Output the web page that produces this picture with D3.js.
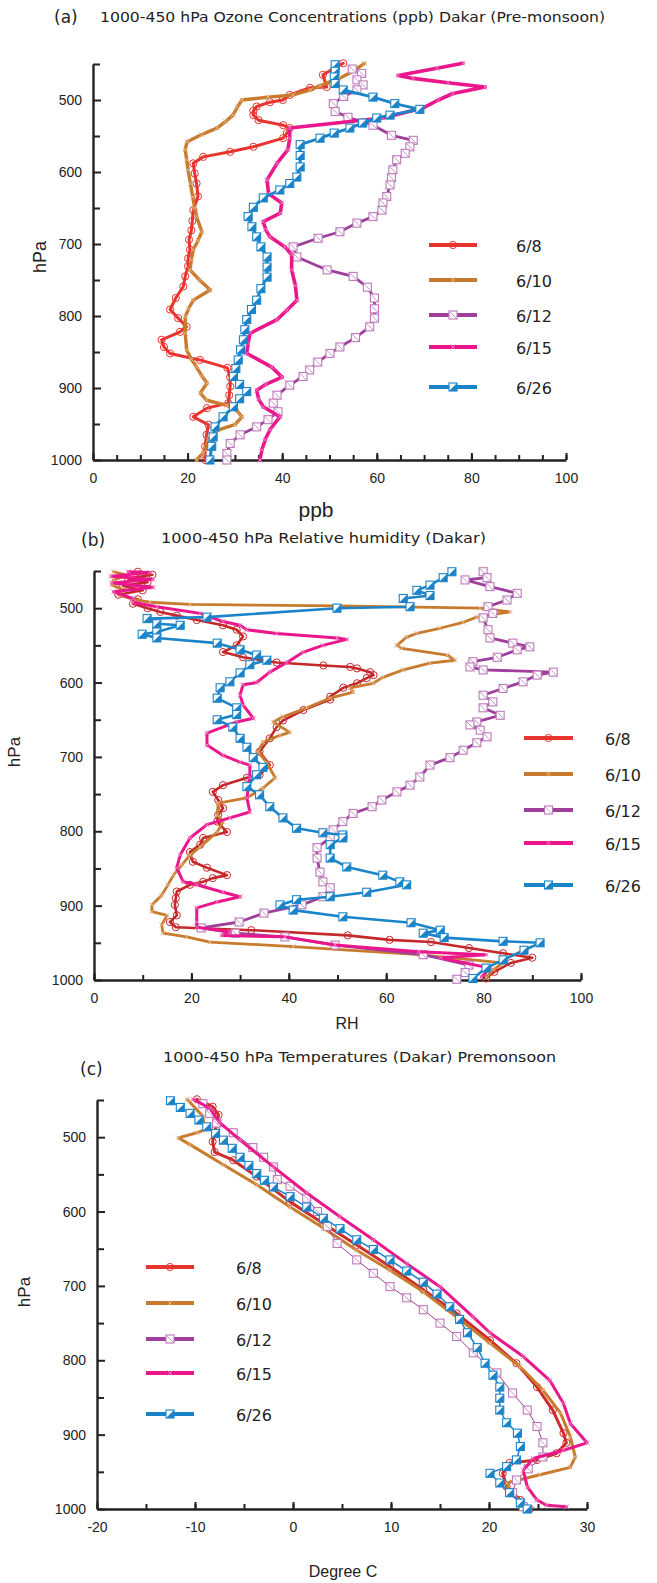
<!DOCTYPE html>
<html>
<head>
<meta charset="utf-8">
<script src="https://cdn.jsdelivr.net/npm/d3@7"></script>
<style>
  body { margin: 0; background: #fff; }
  svg { display: block; }
</style>
</head>
<body>
<div id="chart"></div>
<script>
// ---- data: [pressure hPa, value] ----
const dates = ["6/8", "6/10", "6/12", "6/15", "6/26"];
const markerTypes = ["circle", "cross", "sqdiag", "cross", "sqhalf"];

// (a) ozone, ppb
const oz0608 = [[449,52.9],[465,48.6],[482,49.4],[483,45.9],[493,41.6],[500,40.1],[503,37.4],[509,34.6],[515,33.9],[521,33.9],[528,35],[535,40.2],[539,41.6],[546,41],[553,40.2],[565,33.9],[572,29],[579,23.3],[588,21.2],[602,21.5],[616,21.9],[634,22.2],[653,21.2],[668,21],[681,20.8],[694,20.3],[708,20.5],[720,20.1],[731,20.1],[745,19.5],[759,19.1],[775,17.5],[791,16.3],[803,18],[815,19.8],[822,18.4],[833,14.5],[843,15],[852,16.3],[861,22.6],[872,28.4],[885,29],[898,29],[910,28.8],[921,28.6],[928,24.1],[940,21.2],[951,24.4],[965,24],[981,23.7],[1000,23.7]];
const oz0610 = [[449,57.4],[460,55],[470,52],[480,48],[486,46],[493,42.3],[496,37],[500,31.5],[510,30.5],[521,29.6],[530,28],[539,26.2],[548,23],[558,19.9],[569,19.5],[583,19.8],[597,20.1],[616,20.6],[635,21.1],[650,21.5],[662,21.9],[683,23],[695,22.2],[708,21.2],[722,20.8],[736,20.5],[750,22.5],[764,24.8],[778,21.2],[790,20.2],[801,19.5],[824,19.5],[847,19.8],[860,20.8],[871,21.9],[883,23],[893,24.1],[907,22.7],[917,24],[924,28.3],[932,30.5],[940,31.5],[951,30],[958,26.5],[972,24.4],[990,23.3],[1000,21.9]];
const oz0612 = [[457,54.8],[463,56.8],[472,55.8],[479,57.1],[486,55.8],[495,53],[505,50.8],[516,51.2],[524,53.9],[535,59.2],[549,63.1],[556,67.7],[565,67],[574,66],[583,64.2],[597,63.4],[608,63.1],[618,62.8],[634,62.1],[643,61.3],[653,61.1],[662,59.2],[671,55.8],[683,52.2],[692,47.6],[704,42.3],[718,43.1],[736,49.5],[745,55],[760,58],[775,59.5],[790,59.5],[803,59.5],[815,58.5],[830,55.5],[843,52.2],[852,50.1],[864,47.5],[875,45.8],[884,44.4],[896,41.6],[910,38.9],[921,38.1],[933,39.1],[944,37],[954,34.6],[965,31.1],[977,29],[991,28.3],[1000,28.3]];
const oz0615 = [[449,78.2],[456,72.7],[466,64.5],[470,67.7],[476,75],[482,82.9],[491,76.1],[500,73],[511,69.8],[525,61.3],[539,41.6],[553,41.6],[569,41.2],[588,38.9],[611,36.8],[630,37.1],[643,39.9],[657,39.6],[669,36],[680,36.5],[690,37.4],[704,40.6],[715,42],[736,42],[758,42.8],[778,43.1],[792,41],[805,38.9],[824,33.2],[838,32.8],[852,32.5],[871,37.8],[885,40],[895,36.5],[903,34.6],[915,35],[926,36],[940,39.5],[958,37.4],[972,36.4],[986,35.7],[1000,35.3]];
const oz0626 = [[451,51.2],[460,51.2],[468,51],[477,51.2],[486,52.9],[496,59.2],[505,63.8],[513,69.1],[521,62.8],[525,60],[532,57],[539,54.3],[546,51],[553,48],[562,43.8],[577,43.8],[593,43.8],[607,43.1],[616,41.6],[625,39.5],[636,36],[649,33.9],[662,32.8],[676,33.6],[690,34.6],[704,35.5],[718,36.8],[732,36.8],[746,36.8],[762,35.5],[778,34.6],[791,33.5],[805,32.5],[819,32.1],[833,31.8],[847,31.2],[861,30.7],[873,30.2],[884,29.7],[895,31],[905,32.5],[915,31],[926,29.7],[940,27.5],[954,25.8],[968,25.4],[981,25.1],[1000,24.7]];

// (b) relative humidity, %
const rh0608 = [[451,9],[455,12],[460,7],[465,11],[470,6],[476,10],[482,5],[488,9],[494,8],[500,11],[505,13.6],[510,17],[516,21.1],[523,26.5],[529,29.3],[538,30.6],[550,29.3],[559,26.5],[566,30.6],[573,37.5],[577,47.1],[579,52.6],[581,54],[586,56.7],[590,57.4],[594,56],[601,54],[607,51.2],[619,48.5],[623,48.5],[637,43],[651,38.8],[660,37.5],[675,36.1],[693,34],[711,36.1],[724,34],[728,31.4],[738,26.5],[747,24.4],[758,25.5],[769,26.5],[778,25.5],[787,25.3],[801,27.3],[809,22.4],[818,21.8],[828,19.7],[841,20.3],[849,23.2],[859,27.3],[863,24.4],[868,22.4],[872,19.7],[881,17],[890,16.8],[899,16.6],[913,17],[922,15.6],[929,16.8],[933,32.3],[940,52.1],[946,60.7],[949,69.2],[957,77],[964,84],[970,90],[977,85.6],[989,82.2],[998,80.5]];
const rh0610 = [[451,4],[456,7],[462,4],[469,3.7],[475,6],[482,5],[488,8],[492,11.5],[495,19.7],[497,50],[500,79.3],[505,85.4],[512,78.6],[519,75.8],[527,71],[534,66.3],[539,64.2],[550,62.2],[554,63.2],[563,72.5],[570,74.1],[574,69],[583,63.5],[593,59.3],[601,57.3],[607,52.6],[613,53.2],[621,48.5],[634,43.7],[646,38.8],[653,36.8],[667,40.2],[671,38.2],[680,34.7],[693,33.7],[708,35.5],[728,37.2],[742,34.7],[755,31.4],[762,25.5],[778,25.3],[787,26.5],[801,25.3],[821,21.8],[832,19.7],[845,18.1],[859,16.3],[872,15.2],[886,13.9],[899,11.9],[908,11.9],[913,15],[926,13.9],[937,14.2],[942,19],[949,23.8],[955,40.9],[966,66.7],[977,84],[986,82],[997,80.5]];
const rh0612 = [[451,79.9],[459,80.7],[462,76.2],[471,81.3],[480,86.9],[489,84.8],[498,80.9],[507,81.9],[513,79.9],[529,80.9],[540,81.3],[547,86],[552,89.5],[556,86.9],[566,82.8],[572,77.8],[579,77.2],[583,79.9],[586,94.3],[590,91],[599,88.1],[608,84],[617,79.9],[626,81.9],[634,79.9],[644,83.4],[653,78.6],[657,77.2],[664,79.3],[673,80.7],[681,78.6],[691,75.8],[701,73.1],[711,69],[727,66.9],[738,64.9],[747,62.2],[758,59.1],[767,57.1],[776,53.2],[787,51.1],[798,49.1],[809,48.5],[822,45.8],[836,45.8],[855,46.4],[868,47],[876,48.5],[888,47],[899,42.7],[910,34.9],[922,29.8],[930,22],[937,29],[942,39.2],[953,49.5],[966,67.6],[980,77],[990,76.2],[999,74.5]];
const rh0615 = [[451,7],[452,11.5],[457,3.5],[461,12.1],[466,3.7],[472,12.1],[478,4],[487,8],[492,8],[498,12.9],[507,21.8],[518,26.5],[523,30],[529,31.4],[534,37.5],[540,49.9],[542,51.9],[550,47],[559,43],[573,39.6],[586,36.1],[600,33.4],[603,30.6],[617,30],[630,30.6],[648,32.7],[653,29.3],[668,23.2],[684,23.2],[698,26.5],[707,30],[711,32],[728,32],[755,31.4],[774,32],[782,27.9],[791,23.2],[809,19.7],[832,17.7],[849,17],[868,18.3],[872,21.1],[882,26.5],[888,30],[895,25.3],[903,21.1],[922,21.1],[929,21.1],[935,27.9],[940,26.3],[942,39.2],[953,49.5],[962,66.7],[966,80.5],[970,71.2],[984,81.3],[996,79.6]];
const rh0626 = [[451,73.5],[459,71.7],[469,69],[476,66.3],[483,69],[487,63.5],[498,64.9],[500,49.9],[512,23.2],[514,10.9],[521,12.9],[523,17.7],[532,12.9],[535,9.9],[540,12.9],[547,25.3],[556,30],[563,33.4],[570,35.5],[576,32],[587,30],[599,27.9],[607,25.9],[621,25.3],[634,29.3],[643,29.3],[650,25.3],[660,28.5],[675,30],[687,31.4],[701,32.7],[714,34.7],[724,33.4],[740,31.4],[751,34],[767,36.1],[782,38.8],[796,41.6],[802,47],[805,51.1],[809,51.1],[818,48.5],[836,48.5],[848,51.9],[859,59.3],[868,62.8],[872,64.2],[882,56],[888,48.5],[892,41.6],[899,38.2],[906,40.9],[915,51.1],[923,65.1],[933,71.1],[937,67.6],[943,71.9],[948,84],[950,91.6],[960,88.3],[973,84],[984,80.5],[998,77.8]];

// (c) temperature, deg C
const tc0608 = [[449,-9.8],[459,-8.2],[470,-7.6],[488,-7.9],[506,-8.2],[520,-8],[531,-6.1],[553,-3.7],[587,-0.3],[616,3.1],[645,6.5],[674,9.9],[705,13.3],[737,16.7],[773,20.1],[804,22.8],[836,24.9],[867,26.5],[898,27.6],[911,27.9],[925,26.9],[934,24.9],[938,22.1],[952,21.4],[970,21.8],[988,23.2],[1000,24.2]];
const tc0610 = [[449,-10.8],[472,-9.2],[490,-9],[494,-9.8],[501,-11.7],[510,-10.5],[537,-7.1],[564,-3.7],[594,-0.3],[622,3.1],[652,6.5],[679,9.9],[708,13.3],[742,16.7],[777,20.1],[809,23.2],[840,25.5],[871,27.3],[903,28.3],[930,28.8],[944,28.3],[954,25.2],[965,21.8],[978,22.1],[992,23.5],[1000,24.2]];
const tc0612 = [[455,-9.2],[468,-8.5],[481,-7.8],[494,-6.1],[514,-4.1],[527,-3],[540,-2],[557,-1.6],[566,-0.3],[582,1.4],[600,2.5],[620,3.5],[643,4.5],[665,6.5],[683,8.2],[701,9.9],[716,11.6],[732,13.3],[750,15],[768,16.7],[790,18.4],[817,20.8],[844,22.4],[867,23.9],[889,24.9],[911,25.5],[930,25.5],[946,24],[961,22.8],[978,22.4],[997,23.5]];
const tc0615 = [[449,-10.2],[461,-8.5],[480,-7.5],[504,-5.4],[540,-2],[575,1.4],[607,4.8],[638,8.2],[670,11.6],[701,15],[742,18.4],[763,20.1],[795,23.5],[827,26.2],[858,27.6],[885,28.3],[911,30],[921,27.6],[932,24.5],[948,23.5],[970,23.9],[988,24.9],[995,25.9],[997,27.9]];
const tc0626 = [[451,-12.5],[460,-11.5],[468,-10.5],[477,-9.6],[486,-8.8],[495,-7.9],[504,-7.1],[515,-6.2],[527,-5.4],[538,-4.5],[549,-3.7],[558,-2.9],[567,-2],[580,-0.3],[594,1.4],[609,3.1],[623,4.8],[638,6.5],[651,8.2],[665,9.9],[680,11.6],[695,13.3],[711,14.7],[728,16],[745,17],[763,17.8],[783,18.8],[804,19.6],[820,20.4],[836,21.1],[851,21.1],[867,21.1],[884,21.8],[898,22.9],[916,23.2],[934,22.8],[943,21.8],[952,20.1],[965,21.1],[978,22.1],[992,23.2],[1000,23.9]];

const W = 657, H = 1583;
const svg = d3.select("#chart").append("svg")
  .attr("width", W).attr("height", H)
  .style("font-family", "'Liberation Sans', Arial, sans-serif");
svg.append("rect").attr("width", W).attr("height", H).attr("fill", "#fff");

const titleFont = "'DejaVu Sans', 'Noto Sans', sans-serif";
const plain = d => String(d);   // keeps "1000" and "-20" as printed

function drawMarker(g, type, color, x, y) {
  const m = g.append("g").attr("transform", `translate(${x},${y})`);
  if (type === "circle") {
    m.append("circle").attr("r", 3.6).attr("fill", "none")
      .attr("stroke", color).attr("stroke-width", 1);
  } else if (type === "cross") {
    m.append("path").attr("d", "M-2.5,-2.5L2.5,2.5M-2.5,2.5L2.5,-2.5")
      .attr("stroke", d3.interpolateRgb(color, "#fff")(0.45)).attr("stroke-width", 0.9);
  } else if (type === "sqdiag") {
    const c = d3.interpolateRgb(color, "#fff")(0.3);
    m.append("rect").attr("x", -4).attr("y", -4).attr("width", 8).attr("height", 8)
      .attr("fill", "#fff").attr("stroke", c).attr("stroke-width", 1.1);
    m.append("path").attr("d", "M-3.5,-3.5L3.5,3.5").attr("stroke", c).attr("stroke-width", 0.8);
  } else if (type === "sqhalf") {
    m.append("rect").attr("x", -4).attr("y", -4).attr("width", 8).attr("height", 8)
      .attr("fill", "#fff").attr("stroke", color).attr("stroke-width", 1.1);
    m.append("path").attr("d", "M-4,4L4,-4L4,4Z").attr("fill", color);
  }
}

function drawPanel(cfg) {
  const x = d3.scaleLinear().domain(cfg.xDomain).range([cfg.left, cfg.right]);
  const y = d3.scaleLinear().domain([450, 1000]).range([cfg.top, cfg.bottom]);
  const g = svg.append("g");

  // axes: inward ticks
  const yMinor = d3.range(450, 1001, 50).filter(v => v % 100 !== 0);
  g.append("g").attr("transform", `translate(${cfg.left},0)`)
    .call(d3.axisLeft(y).tickValues(yMinor).tickSize(-7).tickSizeOuter(0).tickFormat(""))
    .call(a => a.select(".domain").remove());
  const yAx = g.append("g").attr("transform", `translate(${cfg.left},0)`)
    .call(d3.axisLeft(y).tickValues(d3.range(500, 1001, 100)).tickSize(-8)
      .tickSizeOuter(0).tickPadding(11).tickFormat(plain));
  yAx.selectAll("text").attr("font-size", 14).attr("fill", "#222")
    .attr("font-family", "'Liberation Sans', Arial, sans-serif");

  const xMinor = d3.range(cfg.xDomain[0], cfg.xDomain[1] + 0.01, cfg.minorStep);
  g.append("g").attr("transform", `translate(0,${cfg.bottom})`)
    .call(d3.axisBottom(x).tickValues(xMinor).tickSize(-5).tickSizeOuter(0).tickFormat(""))
    .call(a => a.select(".domain").remove());
  const xAx = g.append("g").attr("transform", `translate(0,${cfg.bottom})`)
    .call(d3.axisBottom(x).tickValues(cfg.xMajor).tickSize(-7)
      .tickSizeOuter(0).tickPadding(13).tickFormat(plain));
  xAx.selectAll("text").attr("font-size", 14).attr("fill", "#222")
    .attr("font-family", "'Liberation Sans', Arial, sans-serif");

  [yAx, xAx].forEach(a => {
    a.select(".domain").attr("stroke", "#222").attr("stroke-width", 2.4);
  });
  g.selectAll(".tick line").attr("stroke", "#222").attr("stroke-width", 2);

  // series
  const line = d3.line().x(d => x(d[1])).y(d => y(d[0]));
  cfg.series.forEach((s, i) => {
    const sg = g.append("g");
    sg.append("path").datum(s).attr("d", line).attr("fill", "none")
      .attr("stroke", cfg.colors[i]).attr("stroke-width", cfg.widths[i])
      .attr("stroke-linejoin", "round").attr("stroke-linecap", "round");
    s.forEach(d => drawMarker(sg, markerTypes[i], cfg.colors[i], x(d[1]), y(d[0])));
  });

  // legend
  const lg = g.append("g");
  dates.forEach((d, i) => {
    const ly = cfg.legend.ys[i];
    lg.append("line").attr("x1", cfg.legend.x0).attr("x2", cfg.legend.x1)
      .attr("y1", ly).attr("y2", ly).attr("stroke", cfg.legendColors[i]).attr("stroke-width", 4.2);
    drawMarker(lg, markerTypes[i], cfg.legendColors[i], (cfg.legend.x0 + cfg.legend.x1) / 2, ly);
    lg.append("text").attr("x", cfg.legend.tx).attr("y", ly + 1).attr("dy", "0.35em")
      .attr("font-family", titleFont).attr("font-size", 16).attr("fill", "#222")
      .text(d);
  });

  // texts
  g.append("text").attr("x", cfg.tag[0]).attr("y", cfg.tag[1])
    .attr("font-family", titleFont).attr("font-size", 17).attr("fill", "#222").text(cfg.tagText);
  g.append("text").attr("x", cfg.title[0]).attr("y", cfg.title[1])
    .attr("font-family", titleFont).attr("font-size", 14.5).attr("fill", "#222")
    .attr("textLength", cfg.title[2]).attr("lengthAdjust", "spacingAndGlyphs")
    .text(cfg.titleText);
  g.append("text").attr("transform", `translate(${cfg.hpa[0]},${cfg.hpa[1]}) rotate(-90)`)
    .attr("text-anchor", "middle").attr("font-size", cfg.hpa[2]).attr("fill", "#222").text("hPa");
  g.append("text").attr("x", cfg.xlab[0]).attr("y", cfg.xlab[1]).attr("text-anchor", "middle")
    .attr("font-size", cfg.xlab[2]).attr("fill", "#222").text(cfg.xlabText);
}

drawPanel({
  left: 93, right: 566, top: 64, bottom: 460,
  xDomain: [0, 100], minorStep: 5, xMajor: [0, 20, 40, 60, 80, 100],
  series: [oz0608, oz0610, oz0612, oz0615, oz0626],
  colors: ["#e8342e", "#c97b2d", "#9f3f9c", "#ea168b", "#1b84c9"],
  legendColors: ["#e8342e", "#c97b2d", "#9f3f9c", "#ea168b", "#1b84c9"],
  widths: [3, 3.4, 2.8, 3.6, 3],
  legend: { x0: 429, x1: 477, tx: 516, ys: [245, 280, 315, 347, 387] },
  tag: [54, 23], tagText: "(a)",
  title: [100, 22, 505], titleText: "1000-450 hPa Ozone Concentrations (ppb)  Dakar (Pre-monsoon)",
  hpa: [46, 257, 18], xlab: [316, 517, 21], xlabText: "ppb"
});

drawPanel({
  left: 94, right: 581, top: 571, bottom: 980,
  xDomain: [0, 100], minorStep: 10, xMajor: [0, 20, 40, 60, 80, 100],
  series: [rh0608, rh0610, rh0612, rh0615, rh0626],
  colors: ["#c4282b", "#c97b2d", "#9f3f9c", "#ea168b", "#1b84c9"],
  legendColors: ["#e8342e", "#c97b2d", "#9f3f9c", "#ea168b", "#1b84c9"],
  widths: [2.6, 2.8, 2.8, 3, 2.6],
  legend: { x0: 524, x1: 573, tx: 605, ys: [738, 774, 810, 843, 885] },
  tag: [81, 546], tagText: "(b)",
  title: [161, 543, 325], titleText: "1000-450 hPa Relative humidity (Dakar)",
  hpa: [20, 752, 17], xlab: [347, 1029, 16], xlabText: "RH"
});

drawPanel({
  left: 97, right: 587, top: 1100, bottom: 1509,
  xDomain: [-20, 30], minorStep: 5, xMajor: [-20, -10, 0, 10, 20, 30],
  series: [tc0608, tc0610, tc0612, tc0615, tc0626],
  colors: ["#d02a2a", "#c97b2d", "#9f3f9c", "#ea168b", "#1b84c9"],
  legendColors: ["#e8342e", "#c97b2d", "#9f3f9c", "#ea168b", "#1b84c9"],
  widths: [3, 3, 1, 3, 1.5],
  legend: { x0: 146, x1: 194, tx: 236, ys: [1267, 1303, 1339, 1373, 1414] },
  tag: [80, 1075], tagText: "(c)",
  title: [163, 1062, 393], titleText: "1000-450 hPa Temperatures (Dakar) Premonsoon",
  hpa: [30, 1292, 17], xlab: [343, 1577, 16], xlabText: "Degree C"
});
</script>
</body>
</html>
